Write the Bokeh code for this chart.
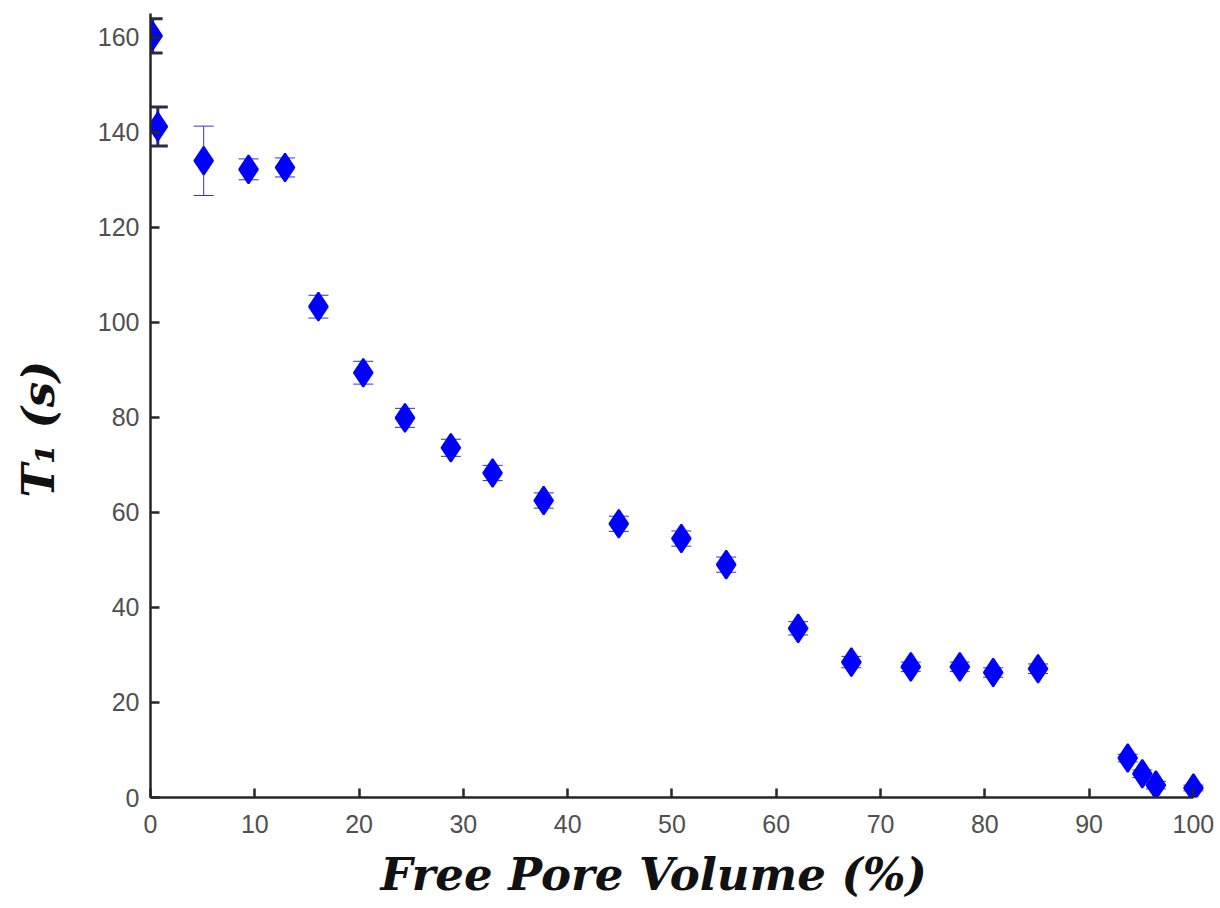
from bokeh.plotting import figure
from bokeh.models import ColumnDataSource, Whisker, TeeHead, Range1d, FixedTicker, LinearAxis
from bokeh.embed import file_html
from bokeh.resources import INLINE

free_pore_volume = [0.2, 0.7, 5.1, 9.4, 12.9, 16.1, 20.4, 24.4, 28.8, 32.8, 37.7, 44.9,
                    50.9, 55.2, 62.1, 67.2, 72.9, 77.6, 80.8, 85.1, 93.7, 95.1, 96.4, 100.0]
t1_values = [160.3, 141.2, 134.0, 132.2, 132.6, 103.3, 89.4, 79.9, 73.6, 68.3, 62.5, 57.6,
             54.5, 49.0, 35.6, 28.5, 27.5, 27.5, 26.3, 27.1, 8.3, 5.0, 2.6, 2.0]
t1_errors = [3.6, 4.1, 7.3, 2.2, 2.0, 2.4, 2.4, 2.0, 1.8, 1.6, 1.6, 1.6,
             1.6, 1.6, 1.4, 1.2, 1.0, 1.0, 1.0, 1.0, 0.8, 0.8, 0.8, 0.6]
x_ticks = [0, 10, 20, 30, 40, 50, 60, 70, 80, 90, 100]
y_ticks = [0, 20, 40, 60, 80, 100, 120, 140, 160]
x_label = "Free Pore Volume (%)"
y_label = "T\u2081 (s)"

n_dark = 2  # first two error bars drawn darker/thicker

lower = [v - e for v, e in zip(t1_values, t1_errors)]
upper = [v + e for v, e in zip(t1_values, t1_errors)]

src_all = ColumnDataSource(dict(x=free_pore_volume, y=t1_values))
src_err_dark = ColumnDataSource(dict(x=free_pore_volume[:n_dark], lo=lower[:n_dark], hi=upper[:n_dark]))
src_err = ColumnDataSource(dict(x=free_pore_volume[n_dark:], lo=lower[n_dark:], hi=upper[n_dark:]))

W, H = 1220, 904
p = figure(width=W, height=H, output_backend="svg", toolbar_location=None,
           x_range=Range1d(0, 102.5), y_range=Range1d(0, 165),
           min_border_left=150, min_border_right=1, min_border_top=13, min_border_bottom=107)
p.outline_line_color = None
p.grid.visible = False
p.background_fill_color = "white"

w1 = Whisker(source=src_err_dark, base="x", lower="lo", upper="hi",
             line_color="#2a2a4a", line_width=3,
             upper_head=TeeHead(size=20, line_color="#2a2a4a", line_width=3),
             lower_head=TeeHead(size=20, line_color="#2a2a4a", line_width=3))
w2 = Whisker(source=src_err, base="x", lower="lo", upper="hi",
             line_color="#3333cc", line_width=1,
             upper_head=TeeHead(size=20, line_color="#3333cc", line_width=1),
             lower_head=TeeHead(size=20, line_color="#3333cc", line_width=1))
p.add_layout(w1)
p.add_layout(w2)

p.scatter("x", "y", source=src_all, marker="diamond", size=28,
          fill_color="#0000ff", line_color="#0000ff", line_width=2)

for ax in (p.xaxis[0], p.yaxis[0]):
    ax.axis_line_color = "#262626"
    ax.axis_line_width = 2.5
    ax.major_tick_line_color = "#262626"
    ax.major_tick_line_width = 2.5
    ax.major_tick_in = 9
    ax.major_tick_out = 0
    ax.minor_tick_line_color = None
    ax.major_label_text_font = "Liberation Sans"
    ax.major_label_text_font_size = "25px"
    ax.major_label_text_color = "#505050"

p.xaxis[0].ticker = FixedTicker(ticks=x_ticks)
p.yaxis[0].ticker = FixedTicker(ticks=y_ticks)
p.xaxis[0].bounds = (0, 100)
p.xaxis[0].major_label_standoff = 17
p.yaxis[0].major_label_standoff = 11

# label-only axes (no line, no ticks); trailing no-break spaces nudge the centred labels
def label_axis(text, standoff, pad):
    ax = LinearAxis(ticker=FixedTicker(ticks=[]),
                    axis_line_color=None, major_tick_line_color=None, minor_tick_line_color=None,
                    axis_label=text + "\u00a0" * pad, axis_label_standoff=standoff,
                    axis_label_text_font="DejaVu Serif", axis_label_text_font_style="bold italic",
                    axis_label_text_font_size="45px", axis_label_text_color="#111111")
    return ax

p.add_layout(label_axis(x_label, 12, 4), "below")
p.add_layout(label_axis(y_label, 30, 3), "left")

open("out.html", "w").write(file_html(p, INLINE))
